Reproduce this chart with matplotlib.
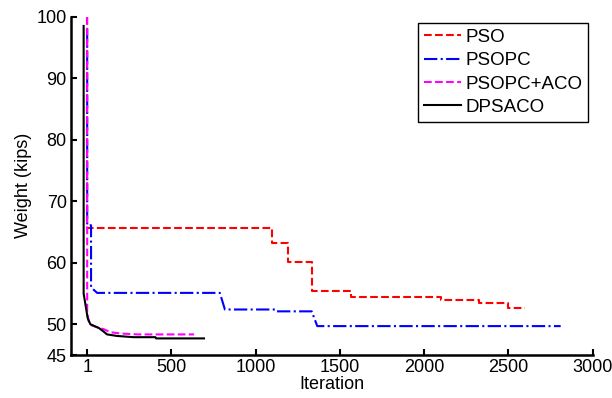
import matplotlib.pyplot as plt

plt.rcParams['font.family'] = ['Liberation Sans', 'DejaVu Sans']

# convergence histories (iteration, weight in kips)
pso_x = [1, 1, 1100, 1100, 1190, 1190, 1333, 1333, 1568, 1568, 2100, 2100, 2326, 2326, 2498, 2498, 2600]
pso_y = [100, 65.6, 65.6, 63.2, 63.2, 60.1, 60.1, 55.4, 55.4, 54.5, 54.5, 53.9, 53.9, 53.4, 53.4, 52.7, 52.7]

psopc_x = [1, 1, 20, 24, 24, 60, 788, 818, 1119, 1125, 1333, 1366, 2810]
psopc_y = [98, 66.1, 66.1, 66.1, 56.0, 55.1, 55.1, 52.4, 52.4, 52.1, 52.1, 49.7, 49.7]

aco_x = [1, 1, 10, 20, 60, 99, 139, 199, 300, 635]
aco_y = [100, 51.8, 50.5, 49.9, 49.5, 49.2, 48.7, 48.5, 48.35, 48.35]

dps_x = [-20, -20, 4, 20, 70, 99, 119, 178, 277, 406, 410, 694]
dps_y = [98.5, 55.0, 51.0, 50.0, 49.4, 48.8, 48.35, 48.1, 47.9, 47.9, 47.7, 47.7]

x_ticks = [1, 500, 1000, 1500, 2000, 2500, 3000]
y_ticks = [45, 50, 60, 70, 80, 90, 100]

fig = plt.figure(figsize=(6.12, 3.98), dpi=100)
ax = fig.add_axes([0.116, 0.108, 0.8525, 0.85])

ax.plot(pso_x, pso_y, '--', color='red', lw=1.5, label='PSO')
ax.plot(psopc_x, psopc_y, '-.', color='blue', lw=1.5, label='PSOPC')
ax.plot(aco_x, aco_y, '--', color='magenta', lw=1.5, label='PSOPC+ACO')
ax.plot(dps_x, dps_y, '-', color='black', lw=1.5, label='DPSACO')

ax.set_xlim(-95, 3000)
ax.set_ylim(45, 100)
ax.set_xticks(x_ticks)
ax.set_yticks(y_ticks)
ax.tick_params(direction='in', length=4, width=1.5, labelsize=13, pad=3)
ax.spines['top'].set_visible(False)
ax.spines['right'].set_visible(False)
ax.spines['left'].set_linewidth(1.8)
ax.spines['bottom'].set_linewidth(1.8)

ax.set_xlabel('Iteration', fontsize=13, labelpad=0)
ax.set_ylabel('Weight (kips)', fontsize=13, labelpad=3)

leg = ax.legend(loc='upper right', bbox_to_anchor=(0.9613, 0.9415),
                bbox_transform=fig.transFigure, borderaxespad=0,
                fontsize=13.5, fancybox=False, framealpha=1,
                handlelength=2.0, handletextpad=0.25, labelspacing=0.33,
                borderpad=0.3)
leg.get_frame().set_edgecolor('black')
leg.get_frame().set_linewidth(1.0)

plt.savefig('out.png', dpi=100)
